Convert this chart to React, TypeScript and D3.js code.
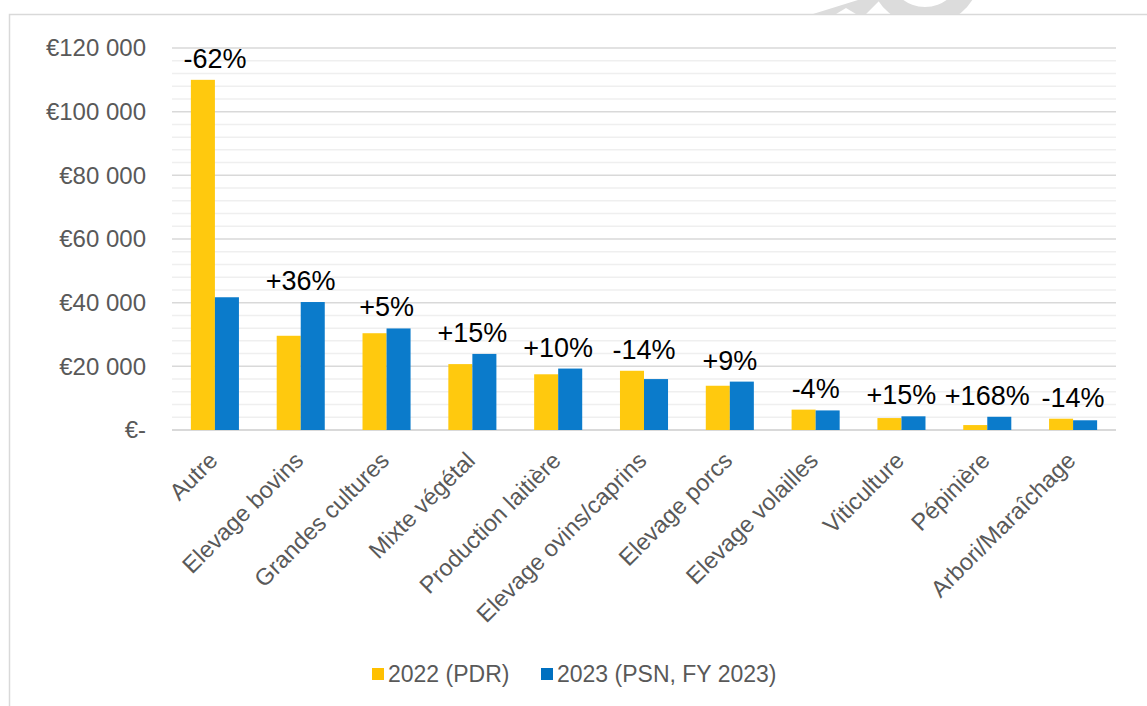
import React from 'react';
import * as d3 from 'd3';

const categories = [
  'Autre', 'Elevage bovins', 'Grandes cultures', 'Mixte végétal', 'Production laitière',
  'Elevage ovins/caprins', 'Elevage porcs', 'Elevage volailles', 'Viticulture', 'Pépinière',
  'Arbori/Maraîchage',
];
const values2022 = [110000, 29600, 30400, 20700, 17500, 18600, 13900, 6400, 3750, 1550, 3550];
const values2023 = [41700, 40200, 31900, 23900, 19300, 16000, 15200, 6150, 4300, 4150, 3050];
const changeLabels = ['-62%', '+36%', '+5%', '+15%', '+10%', '-14%', '+9%', '-4%', '+15%', '+168%', '-14%'];
const seriesNames = ['2022 (PDR)', '2023 (PSN, FY 2023)'];
const yTicks = [0, 20000, 40000, 60000, 80000, 100000, 120000];

const W = 1147;
const H = 706;
const FONT = '"Liberation Sans", Arial, sans-serif';
const BAR_COLORS = ['#FFC90E', '#0B7BCB'];
const LEGEND_COLORS = ['#FFC000', '#0070C0'];

const fmt = (v: number) => (v === 0 ? '€-' : '€' + d3.format(',')(v).replace(/,/g, ' '));

export default function App() {
  const left = 172;
  const right = 1116;
  const top = 48;
  const bottom = 430;

  const x0 = d3.scaleBand<string>().domain(categories).range([left, right]).paddingInner(0.44).paddingOuter(0.22);
  const x1 = d3.scaleBand<string>().domain(seriesNames).range([0, x0.bandwidth()]);
  const y = d3.scaleLinear().domain([0, 120000]).range([bottom, top]);
  const minorTicks = d3.range(0, 120001, 4000).filter((v) => v % 20000 !== 0);

  const series = [values2022, values2023];

  return (
    <svg width={W} height={H} style={{ position: 'absolute', left: 0, top: 0, fontFamily: FONT }}>
      <rect width={W} height={H} fill="#fff" />
      {/* watermark remnants above the frame */}
      <g fill="#dcdcdc">
        <path d="M813,14 L836,14 L846,8 L856,14 L866,14 L880,0 L858,0 Z" />
        <path
          d={
            d3.arc()({ innerRadius: 37, outerRadius: 56, startAngle: Math.PI * 0.55, endAngle: Math.PI * 1.45 }) || ''
          }
          transform="translate(925,-30)"
        />
      </g>
      <rect x={9.5} y={14.5} width={W + 20} height={H + 20} fill="#fff" stroke="#d9d9d9" strokeWidth={1.5} />

      {minorTicks.map((v) => (
        <line key={'m' + v} x1={left} x2={right} y1={y(v)} y2={y(v)} stroke="#efefef" strokeWidth={1.5} />
      ))}
      {yTicks.map((v) => (
        <g key={v}>
          <line x1={left} x2={right} y1={y(v)} y2={y(v)} stroke="#d9d9d9" strokeWidth={v === 0 ? 2 : 1.5} />
          <text x={146} y={y(v)} dy="0.35em" textAnchor="end" fontSize={24} fill="#595959">
            {fmt(v)}
          </text>
        </g>
      ))}

      {categories.map((c, i) => {
        const gx = x0(c) as number;
        const maxV = Math.max(values2022[i], values2023[i]);
        const cx = gx + x0.bandwidth() / 2;
        return (
          <g key={c}>
            {series.map((vals, s) => (
              <rect
                key={s}
                x={gx + (x1(seriesNames[s]) as number)}
                y={y(vals[i])}
                width={x1.bandwidth()}
                height={y(0) - y(vals[i])}
                fill={BAR_COLORS[s]}
              />
            ))}
            <text x={cx} y={y(maxV) - 12} textAnchor="middle" fontSize={27} fill="#000">
              {changeLabels[i]}
            </text>
            <text
              transform={`translate(${cx + 4},${bottom + 32}) rotate(-45)`}
              textAnchor="end"
              fontSize={23.5}
              fill="#595959"
            >
              {c}
            </text>
          </g>
        );
      })}

      {/* legend */}
      <rect x={372} y={668} width={12} height={12} fill={LEGEND_COLORS[0]} />
      <text x={388} y={682} fontSize={23} fill="#595959">{seriesNames[0]}</text>
      <rect x={541} y={668} width={12} height={12} fill={LEGEND_COLORS[1]} />
      <text x={557} y={682} fontSize={23} fill="#595959">{seriesNames[1]}</text>
    </svg>
  );
}
